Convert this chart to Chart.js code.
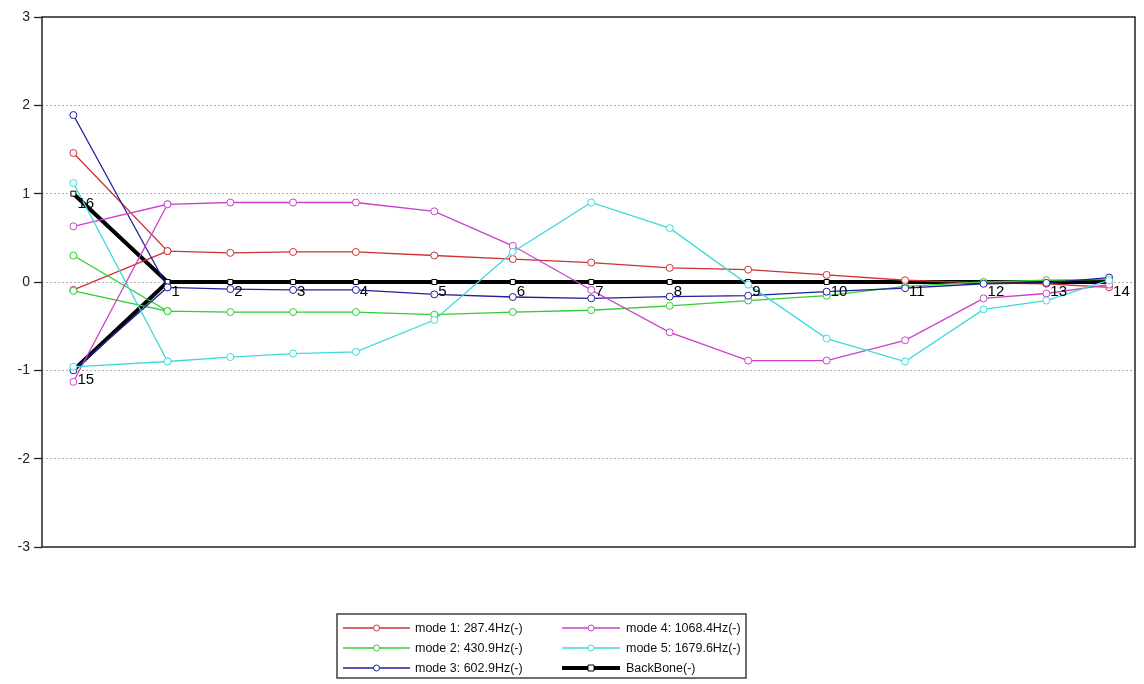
<!DOCTYPE html>
<html>
<head>
<meta charset="utf-8">
<script src="https://cdn.jsdelivr.net/npm/chart.js@4.4.1/dist/chart.umd.min.js"></script>
<style>
  html, body { margin: 0; padding: 0; background: #fff; }
  #wrap { width: 1144px; height: 684px; }
</style>
</head>
<body>
<div id="wrap"><canvas id="modeChart"></canvas></div>
<script>
// positions des noeuds 1..14 le long de la poutre
var nodeX = [1.2, 2.0, 2.8, 3.6, 4.6, 5.6, 6.6, 7.6, 8.6, 9.6, 10.6, 11.6, 12.4, 13.2];
var nodeLabels = ['1', '2', '3', '4', '5', '6', '7', '8', '9', '10', '11', '12', '13', '14'];
// noeuds 16 (haut) et 15 (bas) de la branche
var branchX = 0;
var branchLabels = ['16', '15'];

var backbone = [0, 0, 0, 0, 0, 0, 0, 0, 0, 0, 0, 0, 0, 0];
var backboneEnds = [1, -1];

var mode1 = [0.35, 0.33, 0.34, 0.34, 0.30, 0.26, 0.22, 0.16, 0.14, 0.08, 0.02, -0.01, -0.02, -0.06];
var mode1Ends = [1.46, -0.09];
var mode2 = [-0.33, -0.34, -0.34, -0.34, -0.37, -0.34, -0.32, -0.27, -0.21, -0.155, -0.05, 0.0, 0.02, 0.03];
var mode2Ends = [0.30, -0.10];
var mode3 = [-0.06, -0.08, -0.09, -0.09, -0.14, -0.17, -0.185, -0.165, -0.155, -0.11, -0.07, -0.02, -0.01, 0.05];
var mode3Ends = [1.89, -1.0];
var mode4 = [0.88, 0.90, 0.90, 0.90, 0.80, 0.41, -0.09, -0.57, -0.89, -0.89, -0.66, -0.185, -0.13, -0.03];
var mode4Ends = [0.63, -1.13];
var mode5 = [-0.90, -0.85, -0.81, -0.79, -0.43, 0.34, 0.90, 0.61, -0.03, -0.64, -0.90, -0.31, -0.21, 0.02];
var mode5Ends = [1.12, -0.96];

var seriesNames = ['mode 1: 287.4Hz(-)', 'mode 2: 430.9Hz(-)', 'mode 3: 602.9Hz(-)',
                   'mode 4: 1068.4Hz(-)', 'mode 5: 1679.6Hz(-)', 'BackBone(-)'];
var seriesColors = ['#cc3333', '#33cc33', '#1f1f9f', '#cc3fcc', '#3fd9d9', '#000000'];

// haut -> noeud 1 -> bas -> noeud 1 -> ... -> noeud 14
function buildShape(values, ends) {
    var pts = [];
    pts.push({ x: branchX, y: ends[0] });
    pts.push({ x: nodeX[0], y: values[0] });
    pts.push({ x: branchX, y: ends[1] });
    for (var i = 0; i < values.length; i++) {
        pts.push({ x: nodeX[i], y: values[i] });
    }
    return pts;
}

var shapes = [
    buildShape(mode1, mode1Ends),
    buildShape(mode2, mode2Ends),
    buildShape(mode3, mode3Ends),
    buildShape(mode4, mode4Ends),
    buildShape(mode5, mode5Ends),
    buildShape(backbone, backboneEnds)
];

var datasets = [];
for (var i = 0; i < shapes.length; i++) {
    var isBackbone = i === 5;
    datasets.push({
        label: seriesNames[i],
        data: shapes[i],
        showLine: true,
        borderColor: seriesColors[i],
        borderWidth: isBackbone ? 4 : 1.3,
        pointStyle: isBackbone ? 'rect' : 'circle',
        pointRadius: 3.5,
        pointBorderWidth: 1,
        pointBackgroundColor: '#ffffff',
        pointBorderColor: seriesColors[i],
        order: isBackbone ? 10 : 5 - i,
        tension: 0
    });
}

// cadre noir autour de la zone de tracé
var frame = {
    id: 'frame',
    afterDraw: function (chart) {
        var a = chart.chartArea, ctx = chart.ctx;
        ctx.save();
        ctx.strokeStyle = '#222';
        ctx.lineWidth = 1.5;
        ctx.strokeRect(a.left, a.top, a.right - a.left, a.bottom - a.top);
        ctx.restore();
    }
};

// numéros des noeuds sur la backbone
var nodeNumbers = {
    id: 'nodeNumbers',
    afterDatasetsDraw: function (chart) {
        var ctx = chart.ctx;
        var xs = chart.scales.x, ys = chart.scales.y;
        ctx.save();
        ctx.fillStyle = '#000';
        ctx.font = '15px Arial, "Liberation Sans", sans-serif';
        ctx.textAlign = 'left';
        ctx.textBaseline = 'middle';
        for (var i = 0; i < nodeX.length; i++) {
            ctx.fillText(nodeLabels[i], xs.getPixelForValue(nodeX[i]) + 4, ys.getPixelForValue(backbone[i]) + 10);
        }
        for (var j = 0; j < backboneEnds.length; j++) {
            ctx.fillText(branchLabels[j], xs.getPixelForValue(branchX) + 4, ys.getPixelForValue(backboneEnds[j]) + 10);
        }
        ctx.restore();
    }
};

// légende encadrée sur deux colonnes
var boxLegend = {
    id: 'boxLegend',
    afterDraw: function (chart) {
        var ctx = chart.ctx;
        var left = 337, top = 614, right = 746, bottom = 678, rowH = 20;
        var cols = [{ x0: 343, x1: 410, tx: 415 }, { x0: 562, x1: 620, tx: 626 }];
        ctx.save();
        ctx.font = '12.5px Arial, "Liberation Sans", sans-serif';
        ctx.fillStyle = '#fff';
        ctx.fillRect(left, top, right - left, bottom - top);
        ctx.strokeStyle = '#222';
        ctx.lineWidth = 1.3;
        ctx.strokeRect(left, top, right - left, bottom - top);
        for (var k = 0; k < seriesNames.length; k++) {
            var col = cols[Math.floor(k / 3)];
            var y = top + 14 + (k % 3) * rowH;
            var bb = k === 5;
            ctx.strokeStyle = seriesColors[k];
            ctx.lineWidth = bb ? 4 : 1.3;
            ctx.beginPath();
            ctx.moveTo(col.x0, y);
            ctx.lineTo(col.x1, y);
            ctx.stroke();
            var cx = (col.x0 + col.x1) / 2;
            ctx.fillStyle = '#fff';
            ctx.lineWidth = 1;
            ctx.beginPath();
            if (bb) {
                ctx.rect(cx - 3, y - 3, 6, 6);
            } else {
                ctx.arc(cx, y, 3, 0, Math.PI * 2);
            }
            ctx.fill();
            ctx.stroke();
            ctx.fillStyle = '#111';
            ctx.textBaseline = 'middle';
            ctx.fillText(seriesNames[k], col.tx, y + 1);
        }
        ctx.restore();
    }
};

var ctx = document.getElementById('modeChart').getContext('2d');
var modeChart = new Chart(ctx, {
    type: 'scatter',
    data: { datasets: datasets },
    options: {
        responsive: true,
        maintainAspectRatio: false,
        animation: false,
        layout: { padding: { top: 17, right: 9, bottom: 137, left: 0 } },
        scales: {
            x: {
                type: 'linear',
                display: false,
                min: -0.4,
                max: 13.53
            },
            y: {
                min: -3,
                max: 3,
                afterFit: function (scale) { scale.width = 42; },
                ticks: {
                    stepSize: 1,
                    padding: 4,
                    color: '#222',
                    font: { family: 'Arial, "Liberation Sans", sans-serif', size: 14 }
                },
                grid: {
                    color: function (c) {
                        var v = c.tick ? c.tick.value : 0;
                        return (v === 3 || v === -3) ? 'rgba(0,0,0,0)' : '#b0b0b0';
                    },
                    lineWidth: 1,
                    tickLength: 8,
                    tickColor: '#222',
                    tickWidth: 1.3
                },
                border: { display: false, dash: [2, 2] }
            }
        },
        plugins: {
            legend: { display: false },
            tooltip: { enabled: false }
        }
    },
    plugins: [frame, nodeNumbers, boxLegend]
});
</script>
</body>
</html>
